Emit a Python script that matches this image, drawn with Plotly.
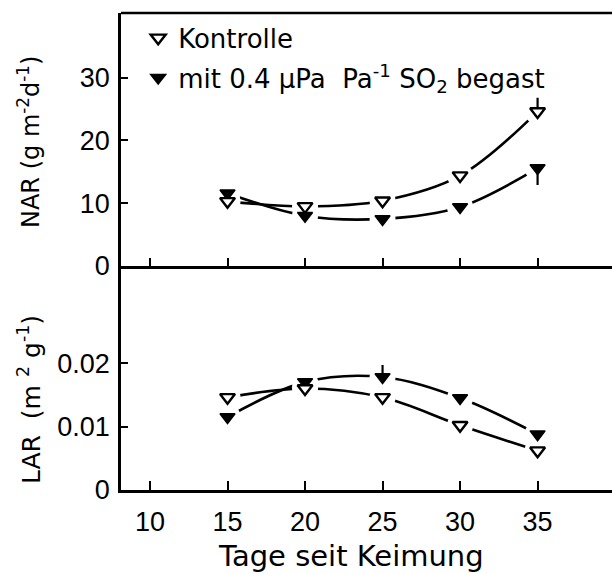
import plotly.graph_objects as go

# ---- data ----
days = [15, 20, 25, 30, 35]
nar_kontrolle = [10.3, 9.5, 10.4, 14.4, 24.6]
nar_begast = [11.6, 8.0, 7.5, 9.4, 15.6]
lar_kontrolle = [0.0146, 0.0160, 0.0146, 0.0102, 0.0062]
lar_begast = [0.0115, 0.0170, 0.0178, 0.0145, 0.0088]

nar_kontrolle_err_up = [0, 0, 0, 0, 2.2]
nar_begast_err_down = [0, 0, 0, 0, 2.7]
lar_begast_err_up = [0, 0, 0.0019, 0, 0]

x_ticks = [10, 15, 20, 25, 30, 35]
nar_ticks = [0, 10, 20, 30]
lar_ticks = [0, 0.01, 0.02]
lar_tick_text = ["0", "0.01", "0.02"]

name_k = "Kontrolle"
name_b = "mit 0.4 \u00b5Pa  Pa<sup>-1</sup> SO<sub>2</sub> begast"

FONT = "DejaVu Sans"
TFONT = "Liberation Sans"
LW = 2.6
MS = 13

fig = go.Figure()


def add_panel(xa, ya, yk, yb, err_k=None, err_b=None, err_b_minus=None, legend=False):
    for yv in (yk, yb):
        fig.add_trace(go.Scatter(x=days, y=yv, mode="lines", xaxis=xa, yaxis=ya,
                                 line=dict(color="black", width=LW, shape="spline", smoothing=1.0),
                                 showlegend=False, hoverinfo="skip"))
    for yv in (yk, yb):
        fig.add_trace(go.Scatter(x=days, y=yv, mode="markers", xaxis=xa, yaxis=ya,
                                 marker=dict(symbol="circle", size=26, color="white",
                                             line=dict(width=0)),
                                 showlegend=False, hoverinfo="skip"))
    eb = None
    if err_b is not None or err_b_minus is not None:
        eb = dict(type="data", symmetric=False,
                  array=err_b if err_b is not None else [0] * len(days),
                  arrayminus=err_b_minus if err_b_minus is not None else [0] * len(days),
                  color="black", thickness=2.2, width=0)
    fig.add_trace(go.Scatter(x=days, y=yb, mode="markers", xaxis=xa, yaxis=ya,
                             name=name_b, legendrank=2, legendgroup="b", showlegend=legend,
                             marker=dict(symbol="triangle-down", size=MS, color="black",
                                         line=dict(color="black", width=1.5)),
                             error_y=eb))
    ek = None
    if err_k is not None:
        ek = dict(type="data", symmetric=False, array=err_k, arrayminus=[0] * len(days),
                  color="black", thickness=2.2, width=0)
    fig.add_trace(go.Scatter(x=days, y=yk, mode="markers", xaxis=xa, yaxis=ya,
                             name=name_k, legendrank=1, legendgroup="k", showlegend=legend,
                             marker=dict(symbol="triangle-down", size=MS, color="white",
                                         line=dict(color="black", width=2.4)),
                             error_y=ek))


add_panel("x2", "y", nar_kontrolle, nar_begast, err_k=nar_kontrolle_err_up,
          err_b_minus=nar_begast_err_down, legend=True)
add_panel("x", "y2", lar_kontrolle, lar_begast, err_b=lar_begast_err_up)

split = (490 - 266) / 477.0

axis_common = dict(showline=True, linecolor="black", linewidth=LW, ticks="inside",
                   tickcolor="black", tickwidth=2, showgrid=False, zeroline=False)

fig.update_layout(
    width=612, height=574,
    margin=dict(l=121, r=0, t=13, b=84),
    paper_bgcolor="white", plot_bgcolor="white",
    font=dict(family=FONT, color="black", size=24),
    xaxis=dict(domain=[0, 1], anchor="y2", range=[8.13, 39.8], tickvals=x_ticks,
               ticklen=9, tickfont=dict(family=TFONT, size=27), ticklabelstandoff=6,
               **axis_common),
    xaxis2=dict(domain=[0, 1], anchor="y", matches="x", range=[8.13, 39.8], tickvals=x_ticks,
                ticklen=8, showticklabels=False, **axis_common),
    yaxis=dict(domain=[split, 1], anchor="x2", range=[0, 40.3], tickvals=nar_ticks,
               ticklen=7, tickfont=dict(family=TFONT, size=27), ticklabelstandoff=3,
               **axis_common),
    yaxis2=dict(domain=[0, split], anchor="x", range=[0, 0.0353], tickvals=lar_ticks,
                ticktext=lar_tick_text, ticklen=7, tickfont=dict(family=TFONT, size=27),
                ticklabelstandoff=3, **axis_common),
    legend=dict(x=0.035, y=0.997, xanchor="left", yanchor="top", bgcolor="rgba(0,0,0,0)",
                font=dict(family=FONT, size=26), traceorder="grouped", itemwidth=30,
                tracegroupgap=3),
    showlegend=True,
)

# top frame line
fig.add_shape(type="line", xref="paper", yref="paper", x0=0, x1=1, y0=1, y1=1,
              line=dict(color="black", width=LW))

# axis titles
fig.add_annotation(text="Tage seit Keimung", xref="paper", yref="paper",
                   x=(351 - 121) / 491, y=(490 - 556) / 477, showarrow=False,
                   xanchor="center", yanchor="middle", font=dict(family=FONT, size=29))
fig.add_annotation(text="NAR (g m<sup>-2</sup>d<sup>-1</sup>)", xref="paper", yref="paper",
                   x=(29 - 121) / 491, y=(490 - 142) / 477, showarrow=False, textangle=-90,
                   xanchor="center", yanchor="middle", font=dict(family=FONT, size=24))
fig.add_annotation(text="LAR  (m <sup>2</sup> g<sup>-1</sup>)", xref="paper", yref="paper",
                   x=(29 - 121) / 491, y=(490 - 400) / 477, showarrow=False, textangle=-90,
                   xanchor="center", yanchor="middle", font=dict(family=FONT, size=25))

fig.write_html("out.html")
